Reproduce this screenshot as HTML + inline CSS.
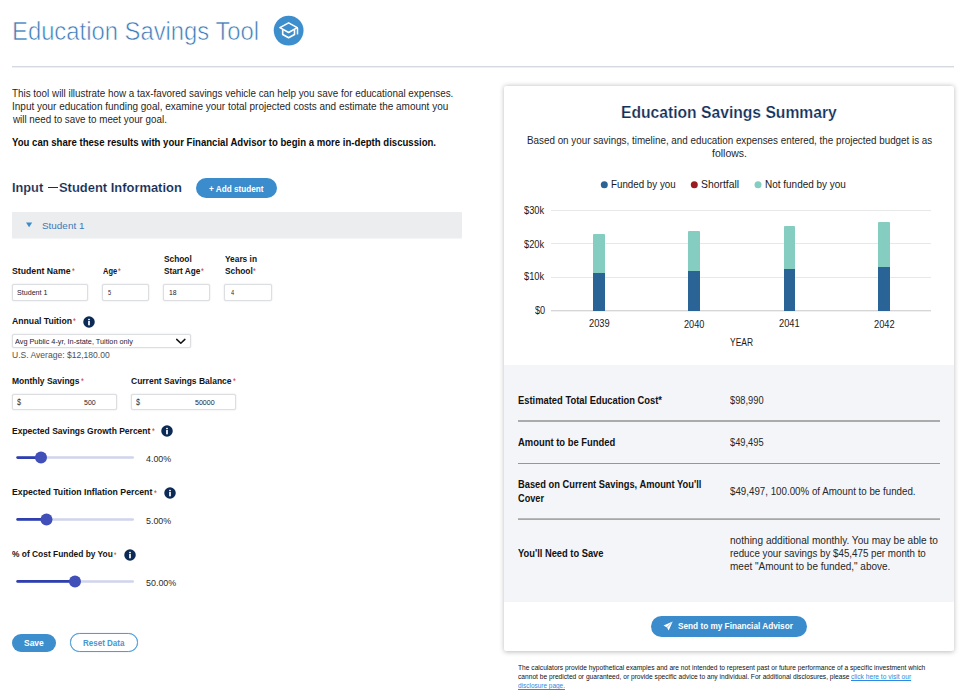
<!DOCTYPE html>
<html><head><meta charset="utf-8"><title>Education Savings Tool</title>
<style>
*{box-sizing:border-box;margin:0;padding:0}
html,body{width:959px;height:693px;overflow:hidden;background:#fff}
body{font-family:"Liberation Sans",sans-serif;position:relative}
.t{position:absolute;white-space:nowrap;line-height:1;transform-origin:0 0;display:block}
.a{position:absolute}
.inp{border:1px solid #dcdee1;border-radius:2px;background:#fff;box-shadow:0 0 1.5px rgba(0,0,0,.18)}
.track{height:2px;background:#cfd2ee;border-radius:1px}
.fill{height:3px;background:#3f4db3;border-radius:2px}
.knob{width:12px;height:12px;border-radius:50%;background:#3f4db3}
.sep{height:1px;background:#8c8c8c;left:518px;width:422px}
.grid{height:1px;background:#e8e8e8;left:551px;width:380.4px}
</style></head><body>
<!-- header -->
<svg class="a" style="left:273px;top:15px" width="32" height="32" viewBox="0 0 32 32"><circle cx="15.65" cy="15.6" r="14.9" fill="#3d8ecd"/><path d="M15.6 7.9 L24.3 12.6 L15.6 17.5 L6.9 12.6 Z" fill="none" stroke="#fff" stroke-width="1.6" stroke-linejoin="round"/><path d="M9.7 14.6 V19.5 L15.6 22.8 L21.5 19.5 V14.6" fill="none" stroke="#fff" stroke-width="1.6" stroke-linejoin="round"/><path d="M24.5 13 V19.4" stroke="#fff" stroke-width="1.5" stroke-linecap="butt"/></svg>
<div class="a" style="left:12px;top:66px;width:942px;height:1px;background:#d5dae0"></div><div class="a" style="left:12px;top:67px;width:942px;height:1px;background:#edeff2"></div>
<div class="a" style="left:48.2px;top:187px;width:10.2px;height:1.3px;background:#17305a"></div>
<!-- add student pill + student bar -->
<div class="a" style="left:196px;top:178px;width:81px;height:20px;border-radius:10px;background:#3b8ccc"></div>
<div class="a" style="left:12px;top:212px;width:450px;height:26px;background:#ecedef;border-radius:1px"></div>
<div class="a" style="left:12px;top:238px;width:450px;height:1px;background:#f5f6f7"></div>
<svg class="a" style="left:26px;top:222px" width="7" height="6" viewBox="0 0 7 6"><path d="M0 0.4 H6.2 L3.1 5.2 Z" fill="#3b8ccc"/></svg>
<!-- inputs -->
<div class="a inp" style="left:12px;top:284px;width:75.5px;height:16.5px"></div>
<div class="a inp" style="left:102px;top:284px;width:46.5px;height:16.5px"></div>
<div class="a inp" style="left:163px;top:284px;width:46.5px;height:16.5px"></div>
<div class="a inp" style="left:224px;top:284px;width:47.5px;height:16.5px"></div>
<div class="a inp" style="left:12px;top:334px;width:178.5px;height:14px"></div>
<svg class="a" style="left:175px;top:337px" width="12" height="9" viewBox="0 0 12 9"><path d="M1.7 2.4 L5.8 6.3 L9.9 2.4" fill="none" stroke="#111" stroke-width="1.5" stroke-linecap="round" stroke-linejoin="round"/></svg>
<div class="a inp" style="left:12px;top:394px;width:104.5px;height:16px"></div>
<div class="a inp" style="left:131px;top:394px;width:104.5px;height:16px"></div>
<!-- info icons -->
<svg class="a" style="left:83px;top:315.6px" width="12" height="12" viewBox="0 0 12 12"><circle cx="6" cy="6" r="5.75" fill="#0b2a55"/><rect x="5.15" y="2.85" width="1.7" height="1.4" fill="#fff"/><rect x="5.15" y="5" width="1.7" height="4.3" fill="#fff"/></svg>
<svg class="a" style="left:161.25px;top:425.25px" width="12" height="12" viewBox="0 0 12 12"><circle cx="6" cy="6" r="5.75" fill="#0b2a55"/><rect x="5.15" y="2.85" width="1.7" height="1.4" fill="#fff"/><rect x="5.15" y="5" width="1.7" height="4.3" fill="#fff"/></svg>
<svg class="a" style="left:163.75px;top:486.75px" width="12" height="12" viewBox="0 0 12 12"><circle cx="6" cy="6" r="5.75" fill="#0b2a55"/><rect x="5.15" y="2.85" width="1.7" height="1.4" fill="#fff"/><rect x="5.15" y="5" width="1.7" height="4.3" fill="#fff"/></svg>
<svg class="a" style="left:123.5px;top:548.75px" width="12" height="12" viewBox="0 0 12 12"><circle cx="6" cy="6" r="5.75" fill="#0b2a55"/><rect x="5.15" y="2.85" width="1.7" height="1.4" fill="#fff"/><rect x="5.15" y="5" width="1.7" height="4.3" fill="#fff"/></svg>
<!-- sliders -->
<svg class="a" style="left:10px;top:447px" width="130" height="22" viewBox="0 0 130 22"><rect x="6.3" y="9.25" width="117.7" height="2.6" rx="1.3" fill="#d0d4ed"/><rect x="6.3" y="9.15" width="24.7" height="2.8" rx="1.4" fill="#2f3fae"/><circle cx="31" cy="10.55" r="6" fill="#4050b8"/></svg>
<svg class="a" style="left:10px;top:509px" width="130" height="22" viewBox="0 0 130 22"><rect x="6.3" y="9.15" width="117.7" height="2.6" rx="1.3" fill="#d0d4ed"/><rect x="6.3" y="9.05" width="30.2" height="2.8" rx="1.4" fill="#2f3fae"/><circle cx="36.5" cy="10.45" r="6" fill="#4050b8"/></svg>
<svg class="a" style="left:10px;top:571px" width="130" height="22" viewBox="0 0 130 22"><rect x="6.3" y="9.15" width="117.7" height="2.6" rx="1.3" fill="#d0d4ed"/><rect x="6.3" y="9.05" width="58.7" height="2.8" rx="1.4" fill="#2f3fae"/><circle cx="65" cy="10.45" r="6" fill="#4050b8"/></svg>
<!-- buttons -->
<div class="a" style="left:12px;top:634px;width:44px;height:18px;border-radius:9px;background:#3d8ecd"></div>
<div class="a" style="left:69.5px;top:633px;width:68.5px;height:19px;border-radius:10px;background:#fff;border:1px solid #4f9dd8;box-shadow:0 0 0.8px #4f9dd8"></div>
<!-- summary panel -->
<div class="a" style="left:503.5px;top:86px;width:450.5px;height:565px;background:#fff;border-radius:2px;box-shadow:0 .5px 5px rgba(0,0,0,.27)"></div>
<div class="a" style="left:503.5px;top:364.5px;width:450.5px;height:237px;background:#f4f5f8"></div>
<!-- legend dots -->
<svg class="a" style="left:598px;top:178px" width="170" height="14" viewBox="0 0 170 14"><circle cx="6.3" cy="6.75" r="3.5" fill="#2a6496"/><circle cx="96.3" cy="6.75" r="3.5" fill="#9b1c20"/><circle cx="160" cy="6.75" r="3.5" fill="#85cdc0"/></svg>
<!-- chart -->
<div class="a grid" style="top:209.75px"></div>
<div class="a grid" style="top:243px"></div>
<div class="a grid" style="top:276.75px"></div>
<div class="a grid" style="top:310px;height:1px;background:#d6d6d6"></div><div class="a grid" style="top:311px;height:1px;background:#f0f0f0"></div>
<div class="a" style="left:593.25px;top:234.25px;width:11.5px;height:38.75px;background:#85cdc0;border-radius:1px 1px 0 0"></div><div class="a" style="left:593.25px;top:273px;width:11.5px;height:37.5px;background:#2a6496"></div>
<div class="a" style="left:688px;top:230.5px;width:11.75px;height:40.25px;background:#85cdc0;border-radius:1px 1px 0 0"></div><div class="a" style="left:688px;top:270.75px;width:11.75px;height:39.75px;background:#2a6496"></div>
<div class="a" style="left:783.5px;top:226.25px;width:11.5px;height:42.75px;background:#85cdc0;border-radius:1px 1px 0 0"></div><div class="a" style="left:783.5px;top:269px;width:11.5px;height:41.5px;background:#2a6496"></div>
<div class="a" style="left:878.25px;top:222px;width:11.75px;height:44.75px;background:#85cdc0;border-radius:1px 1px 0 0"></div><div class="a" style="left:878.25px;top:266.75px;width:11.75px;height:43.75px;background:#2a6496"></div>
<!-- table separators -->
<div class="a sep" style="top:420px;height:2px;background:#ababab"></div>
<div class="a sep" style="top:463px;height:1px;background:#969696"></div>
<div class="a sep" style="top:518px;height:2px;background:linear-gradient(#c2c2c4,#9e9e9e)"></div>
<!-- send button -->
<div class="a" style="left:650.75px;top:616px;width:156px;height:21px;border-radius:10.5px;background:#3b8ccc"></div>
<svg class="a" style="left:663px;top:621px" width="11" height="11" viewBox="0 0 11 11"><path d="M9.7 0.5 L0.5 4.4 L3.5 6.3 Z M9.7 0.5 L4.1 6.7 L5.7 9.5 Z" fill="#fff"/><path d="M9.7 0.5 L3.5 6.3 L4.1 6.7 Z" fill="#d6e8f6"/></svg>
<span class="t" id="t0" style="left:11.67px;top:18px;font-size:26px;color:#3d7bb8;-webkit-text-stroke:0.6px #fff;transform:scaleX(0.9159);">Education Savings Tool</span>
<span class="t" id="t1" style="left:12.00px;top:89px;font-size:10.3px;color:#1f1f1f;transform:scaleX(0.9578);">This tool will illustrate how a tax-favored savings vehicle can help you save for educational expenses.</span>
<span class="t" id="t2" style="left:12.00px;top:102px;font-size:10.3px;color:#1f1f1f;transform:scaleX(0.9696);">Input your education funding goal, examine your total projected costs and estimate the amount you</span>
<span class="t" id="t3" style="left:12.95px;top:115px;font-size:10.3px;color:#1f1f1f;transform:scaleX(0.9533);">will need to save to meet your goal.</span>
<span class="t" id="t4" style="left:12.00px;top:138px;font-size:10.3px;font-weight:bold;color:#0c0c0c;transform:scaleX(0.9310);">You can share these results with your Financial Advisor to begin a more in-depth discussion.</span>
<span class="t" id="t5" style="left:12.00px;top:181px;font-size:13.6px;font-weight:bold;color:#122a52;-webkit-text-stroke:0.15px #fff;transform:scaleX(0.9380);">Input</span>
<span class="t" id="t6" style="left:59.00px;top:181px;font-size:13.6px;font-weight:bold;color:#122a52;-webkit-text-stroke:0.15px #fff;transform:scaleX(0.9509);">Student Information</span>
<span class="t" id="t7" style="left:208.75px;top:184px;font-size:9.6px;font-weight:bold;color:#fff;transform:scaleX(0.8535);">+ Add student</span>
<span class="t" id="t8" style="left:41.50px;top:221px;font-size:9.7px;color:#3f78b4;transform:scaleX(1.0222);">Student 1</span>
<span class="t" id="t9" style="left:12.00px;top:266px;font-size:9.8px;font-weight:bold;color:#141414;transform:scaleX(0.8883);">Student Name</span>
<span class="t" id="t10" style="left:71.60px;top:267px;font-size:8.5px;color:#c8372d;transform:scaleX(0.8500);">*</span>
<span class="t" id="t11" style="left:102.50px;top:266px;font-size:9.8px;font-weight:bold;color:#141414;transform:scaleX(0.7608);">Age</span>
<span class="t" id="t12" style="left:117.60px;top:267px;font-size:8.5px;color:#c8372d;transform:scaleX(0.8500);">*</span>
<span class="t" id="t13" style="left:163.50px;top:254px;font-size:9.8px;font-weight:bold;color:#141414;transform:scaleX(0.8501);">School</span>
<span class="t" id="t14" style="left:163.50px;top:266px;font-size:9.8px;font-weight:bold;color:#141414;transform:scaleX(0.8390);">Start Age</span>
<span class="t" id="t15" style="left:201.10px;top:267px;font-size:8.5px;color:#c8372d;transform:scaleX(0.8500);">*</span>
<span class="t" id="t16" style="left:224.50px;top:254px;font-size:9.8px;font-weight:bold;color:#141414;transform:scaleX(0.8512);">Years in</span>
<span class="t" id="t17" style="left:224.50px;top:266px;font-size:9.8px;font-weight:bold;color:#141414;transform:scaleX(0.8501);">School</span>
<span class="t" id="t18" style="left:253.10px;top:267px;font-size:8.5px;color:#c8372d;transform:scaleX(0.8500);">*</span>
<span class="t" id="t19" style="left:12.00px;top:316px;font-size:9.8px;font-weight:bold;color:#141414;transform:scaleX(0.8843);">Annual Tuition</span>
<span class="t" id="t20" style="left:72.60px;top:317px;font-size:8.5px;color:#c8372d;transform:scaleX(0.8500);">*</span>
<span class="t" id="t21" style="left:12.00px;top:376px;font-size:9.8px;font-weight:bold;color:#141414;transform:scaleX(0.8674);">Monthly Savings</span>
<span class="t" id="t22" style="left:80.60px;top:377px;font-size:8.5px;color:#c8372d;transform:scaleX(0.8500);">*</span>
<span class="t" id="t23" style="left:131.00px;top:376px;font-size:9.8px;font-weight:bold;color:#141414;transform:scaleX(0.8668);">Current Savings Balance</span>
<span class="t" id="t24" style="left:232.60px;top:377px;font-size:8.5px;color:#c8372d;transform:scaleX(0.8500);">*</span>
<span class="t" id="t25" style="left:12.00px;top:426px;font-size:9.8px;font-weight:bold;color:#141414;transform:scaleX(0.8674);">Expected Savings Growth Percent</span>
<span class="t" id="t26" style="left:151.60px;top:427px;font-size:8.5px;color:#c8372d;transform:scaleX(0.8500);">*</span>
<span class="t" id="t27" style="left:12.00px;top:487px;font-size:9.8px;font-weight:bold;color:#141414;transform:scaleX(0.8901);">Expected Tuition Inflation Percent</span>
<span class="t" id="t28" style="left:153.60px;top:489px;font-size:8.5px;color:#c8372d;transform:scaleX(0.8500);">*</span>
<span class="t" id="t29" style="left:12.00px;top:549px;font-size:9.8px;font-weight:bold;color:#141414;transform:scaleX(0.8564);">% of Cost Funded by You</span>
<span class="t" id="t30" style="left:113.60px;top:551px;font-size:8.5px;color:#c8372d;transform:scaleX(0.7250);">*</span>
<span class="t" id="t31" style="left:17.20px;top:289px;font-size:8px;color:#1c2230;transform:scaleX(0.8908);">Student 1</span>
<span class="t" id="t32" style="left:108.00px;top:289px;font-size:8px;color:#1c2230;transform:scaleX(0.7000);">5</span>
<span class="t" id="t33" style="left:169.00px;top:289px;font-size:8px;color:#1c2230;transform:scaleX(0.8466);">18</span>
<span class="t" id="t34" style="left:231.00px;top:289px;font-size:8px;color:#1c2230;transform:scaleX(0.7000);">4</span>
<span class="t" id="t35" style="left:15.00px;top:338px;font-size:8px;color:#1c2230;transform:scaleX(0.9119);">Avg Public 4-yr, In-state, Tuition only</span>
<span class="t" id="t36" style="left:12.10px;top:350px;font-size:9.4px;color:#505050;transform:scaleX(0.9107);">U.S. Average: $12,180.00</span>
<span class="t" id="t37" style="left:17.00px;top:398px;font-size:9.2px;color:#333;transform:scaleX(0.8000);">$</span>
<span class="t" id="t38" style="left:83.50px;top:399px;font-size:7.5px;color:#1c2230;transform:scaleX(0.9318);">500</span>
<span class="t" id="t39" style="left:136.00px;top:398px;font-size:9.2px;color:#333;transform:scaleX(0.8000);">$</span>
<span class="t" id="t40" style="left:195.00px;top:399px;font-size:7.5px;color:#1c2230;transform:scaleX(0.9427);">50000</span>
<span class="t" id="t41" style="left:145.75px;top:454px;font-size:9.5px;color:#2b2b2b;transform:scaleX(0.9367);">4.00%</span>
<span class="t" id="t42" style="left:145.75px;top:516px;font-size:9.5px;color:#2b2b2b;transform:scaleX(0.9367);">5.00%</span>
<span class="t" id="t43" style="left:145.75px;top:578px;font-size:9.5px;color:#2b2b2b;transform:scaleX(0.9383);">50.00%</span>
<span class="t" id="t44" style="left:24.00px;top:638px;font-size:9.6px;font-weight:bold;color:#fff;transform:scaleX(0.8835);">Save</span>
<span class="t" id="t45" style="left:83.00px;top:638px;font-size:9.6px;font-weight:bold;color:#4a96d2;transform:scaleX(0.8358);">Reset Data</span>
<span class="t" id="t46" style="left:620.51px;top:105px;font-size:15.8px;font-weight:bold;color:#12305a;-webkit-text-stroke:0.2px #fff;transform:scaleX(0.9911);">Education Savings Summary</span>
<span class="t" id="t47" style="left:526.50px;top:135px;font-size:10.5px;color:#1f1f1f;transform:scaleX(0.9369);">Based on your savings, timeline, and education expenses entered, the projected budget is as</span>
<span class="t" id="t48" style="left:711.50px;top:148px;font-size:10.5px;color:#1f1f1f;transform:scaleX(0.9972);">follows.</span>
<span class="t" id="t49" style="left:611.00px;top:180px;font-size:10.2px;color:#1a1a1a;transform:scaleX(0.9591);">Funded by you</span>
<span class="t" id="t50" style="left:701.25px;top:180px;font-size:10.2px;color:#1a1a1a;transform:scaleX(1.0173);">Shortfall</span>
<span class="t" id="t51" style="left:765.00px;top:180px;font-size:10.2px;color:#1a1a1a;transform:scaleX(0.9784);">Not funded by you</span>
<span class="t" id="t52" style="left:524.00px;top:206px;font-size:10.1px;color:#1a1a1a;transform:scaleX(0.9194);">$30k</span>
<span class="t" id="t53" style="left:524.00px;top:240px;font-size:10.1px;color:#1a1a1a;transform:scaleX(0.9194);">$20k</span>
<span class="t" id="t54" style="left:524.00px;top:272px;font-size:10.1px;color:#1a1a1a;transform:scaleX(0.9194);">$10k</span>
<span class="t" id="t55" style="left:534.50px;top:306px;font-size:10.1px;color:#1a1a1a;transform:scaleX(0.9041);">$0</span>
<span class="t" id="t56" style="left:588.50px;top:319px;font-size:10.1px;color:#1a1a1a;transform:scaleX(0.9194);">2039</span>
<span class="t" id="t57" style="left:683.75px;top:320px;font-size:10.1px;color:#1a1a1a;transform:scaleX(0.9085);">2040</span>
<span class="t" id="t58" style="left:778.50px;top:319px;font-size:10.1px;color:#1a1a1a;transform:scaleX(0.9194);">2041</span>
<span class="t" id="t59" style="left:873.50px;top:320px;font-size:10.1px;color:#1a1a1a;transform:scaleX(0.9194);">2042</span>
<span class="t" id="t60" style="left:729.50px;top:338px;font-size:10.1px;color:#1a1a1a;transform:scaleX(0.8365);">YEAR</span>
<span class="t" id="t61" style="left:518.00px;top:396px;font-size:10.3px;font-weight:bold;color:#111;transform:scaleX(0.9098);">Estimated Total Education Cost*</span>
<span class="t" id="t62" style="left:518.00px;top:438px;font-size:10.3px;font-weight:bold;color:#111;transform:scaleX(0.9143);">Amount to be Funded</span>
<span class="t" id="t63" style="left:518.00px;top:480px;font-size:10.3px;font-weight:bold;color:#111;transform:scaleX(0.9055);">Based on Current Savings, Amount You'll</span>
<span class="t" id="t64" style="left:518.00px;top:494px;font-size:10.3px;font-weight:bold;color:#111;transform:scaleX(0.8910);">Cover</span>
<span class="t" id="t65" style="left:518.00px;top:549px;font-size:10.3px;font-weight:bold;color:#111;transform:scaleX(0.9059);">You'll Need to Save</span>
<span class="t" id="t66" style="left:729.50px;top:396px;font-size:10.4px;color:#262626;transform:scaleX(0.8933);">$98,990</span>
<span class="t" id="t67" style="left:729.50px;top:438px;font-size:10.4px;color:#262626;transform:scaleX(0.8933);">$49,495</span>
<span class="t" id="t68" style="left:729.50px;top:487px;font-size:10.4px;color:#262626;transform:scaleX(0.9391);">$49,497, 100.00% of Amount to be funded.</span>
<span class="t" id="t69" style="left:729.50px;top:536px;font-size:10.4px;color:#262626;transform:scaleX(0.9707);">nothing additional monthly. You may be able to</span>
<span class="t" id="t70" style="left:729.50px;top:549px;font-size:10.4px;color:#262626;transform:scaleX(0.9390);">reduce your savings by $45,475 per month to</span>
<span class="t" id="t71" style="left:729.50px;top:562px;font-size:10.4px;color:#262626;transform:scaleX(0.9613);">meet "Amount to be funded," above.</span>
<span class="t" id="t72" style="left:678.00px;top:622px;font-size:9.3px;font-weight:bold;color:#fff;transform:scaleX(0.8846);">Send to my Financial Advisor</span>
<span class="t" id="t73" style="left:518.00px;top:664px;font-size:7px;color:#111;transform:scaleX(0.9513);">The calculators provide hypothetical examples and are not intended to represent past or future performance of a specific investment which</span>
<span class="t" id="t74" style="left:518.00px;top:673px;font-size:7px;color:#111;transform:scaleX(0.9484);">cannot be predicted or guaranteed, or provide specific advice to any individual. For additional disclosures, please</span>
<span class="t" id="t75" style="left:850.75px;top:673px;font-size:7px;color:#2b8be0;text-decoration:underline;transform:scaleX(0.9480);">click here to visit our</span>
<span class="t" id="t76" style="left:518.00px;top:682px;font-size:7px;color:#2b8be0;text-decoration:underline;transform:scaleX(0.9210);">disclosure page.</span>
</body></html>
